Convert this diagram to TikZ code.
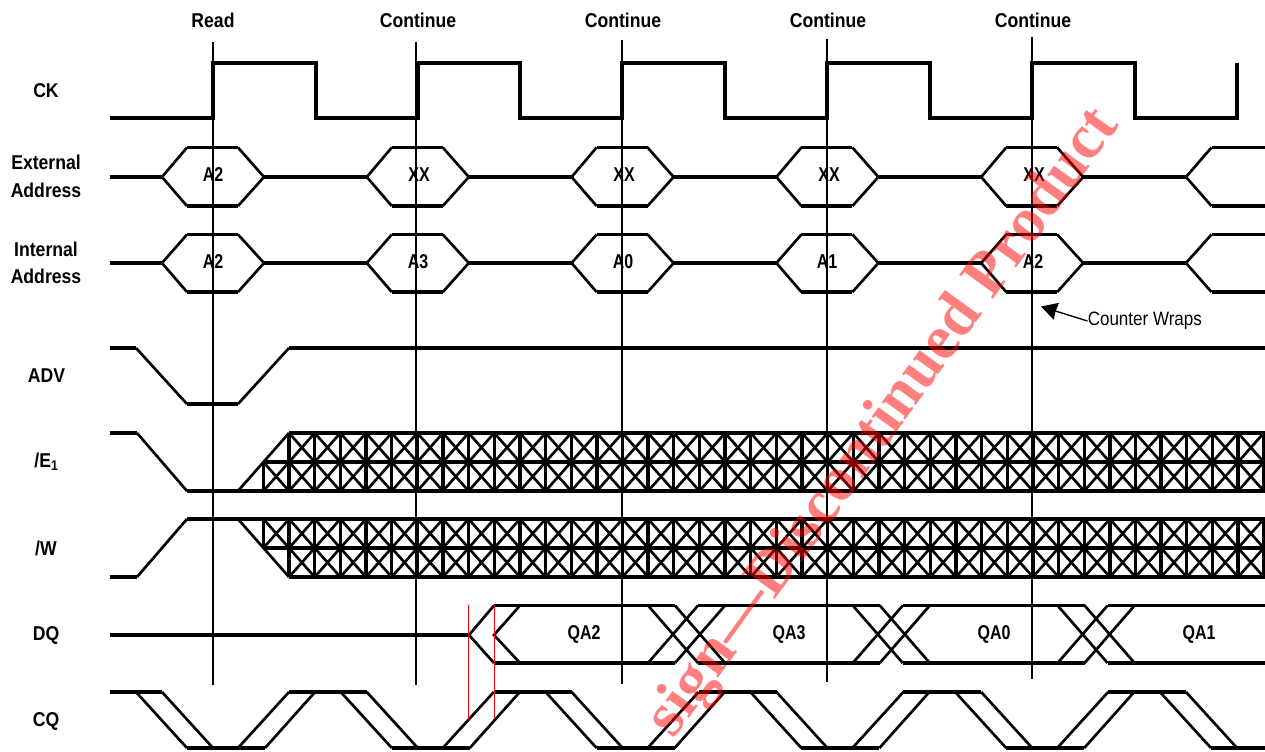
\documentclass[tikz,border=0pt]{standalone}
\usepackage{fontspec}
\usetikzlibrary{arrows.meta}
\setmainfont{Liberation Sans}
\newfontfamily\signalfont[FakeStretch=0.88]{Liberation Sans Bold}
\newfontfamily\dataFont[FakeStretch=0.8]{Liberation Sans Bold}
\newfontfamily\noteFont[FakeStretch=0.88]{Liberation Sans}
\newfontfamily\stampFont{Liberation Serif Bold}

\tikzstyle{signal} = [black, line width=2.5pt, line join=miter]
\tikzstyle{slant} = [black, line width=2pt]
\tikzstyle{guide} = [black, line width=1.5pt]
\tikzstyle{cross} = [black, line width=2pt]
\tikzstyle{timing} = [red, line width=1pt]
\tikzstyle{sig_name} = [inner sep=0pt, text centered, align=center, font=\signalfont\fontsize{15}{20.5}\selectfont]
\tikzstyle{value} = [inner sep=0pt, font=\dataFont\fontsize{15}{18}\selectfont]
\tikzstyle{note} = [inner sep=0pt, anchor=west, font=\noteFont\fontsize{14.5}{17}\selectfont]
\tikzstyle{stamp} = [inner sep=0pt, anchor=base east, rotate=54, red, text opacity=0.5, font=\stampFont\fontsize{47.4}{56}\selectfont]
\tikzstyle{arrow} = [black, line width=1pt, -{Stealth[length=12pt, width=13pt, inset=0.5pt]}]

\begin{document}
\begin{tikzpicture}[x=0.75pt, y=-0.75pt]
    \useasboundingbox (0,0) rectangle (1265,751);

    % Names
    \node (read) [sig_name] at (213,20) {Read};
    \node (cont1) [sig_name] at (418,20) {Continue};
    \node (cont2) [sig_name] at (623,20) {Continue};
    \node (cont3) [sig_name] at (828,20) {Continue};
    \node (cont4) [sig_name] at (1033,20) {Continue};
    \node (ck) [sig_name] at (46,91) {CK};
    \node (ext) [sig_name] at (46,176.5) {External\\Address};
    \node (int) [sig_name] at (46,263) {Internal\\Address};
    \node (adv) [sig_name] at (46.5,376) {ADV};
    \node (e1) [sig_name] at (46.5,461.5) {/E\textsubscript{1}};
    \node (w) [sig_name] at (46,548) {/W};
    \node (dq) [sig_name] at (46,635) {DQ};
    \node (cq) [sig_name] at (46,721) {CQ};

    % Clock
    \draw [signal] (110,118) -- (213,118) -- (213,63) -- (316,63) -- (316,118) -- (418,118) -- (418,63)
        -- (520,63) -- (520,118) -- (622,118) -- (622,63) -- (725,63) -- (725,118) -- (827,118) -- (827,63)
        -- (930,63) -- (930,118) -- (1032,118) -- (1032,63) -- (1135,63) -- (1135,118) -- (1237,118) -- (1237,63);

    % Addresses
    \foreach \row/\top/\mid/\bot in {ext/147.5/177/206, int/234.5/263/292} {
        \draw [signal] (110,\mid) -- (162,\mid);
        \foreach \k in {0,...,4} {
            \draw [signal] ({187+204.8*\k},\top) -- ({238+204.8*\k},\top);
            \draw [signal] ({187+204.8*\k},\bot) -- ({238+204.8*\k},\bot);
            \draw [slant] ({187+204.8*\k},\top) -- ({162+204.8*\k},\mid) -- ({187+204.8*\k},\bot);
            \draw [slant] ({238+204.8*\k},\top) -- ({264+204.8*\k},\mid) -- ({238+204.8*\k},\bot);
            \draw [signal] ({264+204.8*\k},\mid) -- ({366.8+204.8*\k},\mid);
        }
        \draw [slant] (1211.5,\top) -- (1186,\mid) -- (1211.5,\bot);
        \draw [signal] (1211.5,\top) -- (1265,\top);
        \draw [signal] (1211.5,\bot) -- (1265,\bot);
    }
    \node (ext_a) [value] at (213,175) {A2};
    \node (ext_b) [value] at (419,175) {XX};
    \node (ext_c) [value] at (624,175) {XX};
    \node (ext_d) [value] at (829,175) {XX};
    \node (ext_e) [value] at (1034,175) {XX};
    \node (int_a) [value] at (213,262) {A2};
    \node (int_b) [value] at (418,262) {A3};
    \node (int_c) [value] at (623,262) {A0};
    \node (int_d) [value] at (827,262) {A1};
    \node (int_e) [value] at (1033,262) {A2};

    % ADV
    \draw [signal] (110,348) -- (136,348);
    \draw [slant] (136,348) -- (187,404);
    \draw [signal] (187,404) -- (238,404);
    \draw [slant] (238,404) -- (289,348);
    \draw [signal] (289,348) -- (1265,348);

    % E1
    \draw [signal] (110,433) -- (137,433);
    \draw [slant] (137,433) -- (187,491);
    \draw [signal] (187,491) -- (1265,491);
    \draw [slant] (238,491) -- (289,433);
    \draw [signal] (289,433) -- (1265,433);
    \draw [signal] (263,462) -- (1265,462);
    \draw [signal] (263.4,462) -- (263.4,491);
    \foreach \k in {1,...,39} {
        \draw [signal] ({263.4+25.65*\k},433) -- ({263.4+25.65*\k},491);
    }
    \foreach \k in {0,...,38} {
        \draw [cross] ({263.4+25.65*\k},462) -- ({289.05+25.65*\k},491);
        \draw [cross] ({263.4+25.65*\k},491) -- ({289.05+25.65*\k},462);
    }
    \foreach \k in {1,...,38} {
        \draw [cross] ({263.4+25.65*\k},433) -- ({289.05+25.65*\k},462);
        \draw [cross] ({263.4+25.65*\k},462) -- ({289.05+25.65*\k},433);
    }

    % W
    \draw [signal] (110,577) -- (137,577);
    \draw [slant] (137,577) -- (187,519);
    \draw [signal] (187,519) -- (1265,519);
    \draw [slant] (238,519) -- (289,577);
    \draw [signal] (289,577) -- (1265,577);
    \draw [signal] (263,548) -- (1265,548);
    \draw [signal] (263.4,519) -- (263.4,548);
    \foreach \k in {1,...,39} {
        \draw [signal] ({263.4+25.65*\k},519) -- ({263.4+25.65*\k},577);
    }
    \foreach \k in {0,...,38} {
        \draw [cross] ({263.4+25.65*\k},519) -- ({289.05+25.65*\k},548);
        \draw [cross] ({263.4+25.65*\k},548) -- ({289.05+25.65*\k},519);
    }
    \foreach \k in {1,...,38} {
        \draw [cross] ({263.4+25.65*\k},548) -- ({289.05+25.65*\k},577);
        \draw [cross] ({263.4+25.65*\k},577) -- ({289.05+25.65*\k},548);
    }

    % DQ
    \draw [signal] (110,635) -- (469,635);
    \draw [slant] (494,605.5) -- (469,635) -- (494,663);
    \draw [slant] (520,605.5) -- (494,635) -- (520,663);
    \foreach \y in {605.5,663} {
        \draw [signal] (494,\y) -- (675,\y);
        \draw [signal] (698,\y) -- (880,\y);
        \draw [signal] (903,\y) -- (1085,\y);
        \draw [signal] (1108,\y) -- (1265,\y);
    }
    \foreach \k in {0,1,2} {
        \draw [slant] ({648+204.8*\k},605.5) -- ({698+204.8*\k},663);
        \draw [slant] ({675+204.8*\k},605.5) -- ({725+204.8*\k},663);
        \draw [slant] ({648+204.8*\k},663) -- ({698+204.8*\k},605.5);
        \draw [slant] ({675+204.8*\k},663) -- ({725+204.8*\k},605.5);
    }
    \node (qa2) [value] at (584,634) {QA2};
    \node (qa3) [value] at (789,634) {QA3};
    \node (qa0) [value] at (994,634) {QA0};
    \node (qa1) [value] at (1199,634) {QA1};

    % CQ
    \draw [signal] (110,692) -- (162,692);
    \foreach \k in {0,...,5} {
        \draw [slant] ({136+204.8*\k},692) -- ({187+204.8*\k},748);
        \draw [slant] ({162+204.8*\k},692) -- ({213+204.8*\k},748);
    }
    \foreach \k in {0,...,4} {
        \draw [signal] ({187+204.8*\k},748) -- ({265+204.8*\k},748);
        \draw [slant] ({238+204.8*\k},748) -- ({289+204.8*\k},692);
        \draw [slant] ({265+204.8*\k},748) -- ({315+204.8*\k},692);
        \draw [signal] ({289+204.8*\k},692) -- ({367+204.8*\k},692);
    }
    \draw [signal] (1211,748) -- (1265,748);

    % Clock edges
    \draw [guide] (213,41.5) -- (213,685);
    \draw [guide] (416,41.5) -- (416,685);
    \draw [guide] (622,40) -- (622,684);
    \draw [guide] (827,38.5) -- (827,682);
    \draw [guide] (1032,37) -- (1032,679);

    % Setup and hold marks
    \draw [timing] (468.5,605) -- (468.5,720);
    \draw [timing] (494.3,605) -- (494.3,718);

    % Counter note
    \node (wraps) [note] at (1087.5,321) {Counter Wraps};
    \coordinate (wrap_tip) at (1041,306.5);
    \draw [arrow] (wraps.west) -- (wrap_tip);

    % Stamp
    \begin{scope}
        \clip (0,0) rectangle (1265,751);
        \node (stamp_text) [stamp] at (1120,125) {sign—Discontinued Product};
    \end{scope}
\end{tikzpicture}
\end{document}
